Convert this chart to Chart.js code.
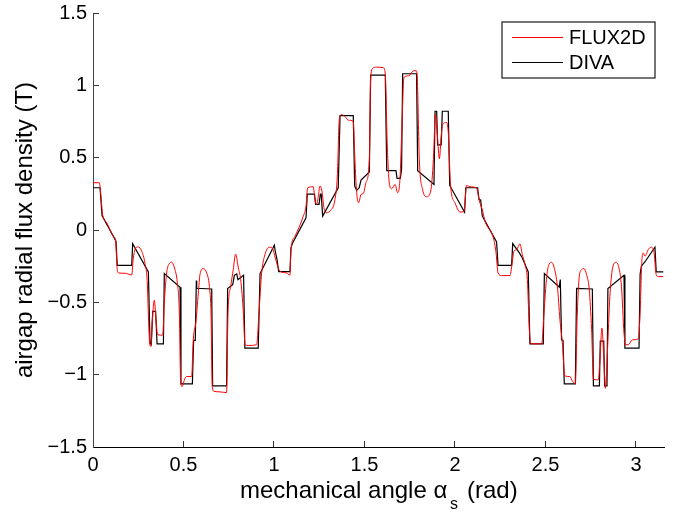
<!DOCTYPE html>
<html>
<head>
<meta charset="utf-8">
<style>html,body{margin:0;padding:0;background:#fff}canvas{display:block}</style>
<script src="https://cdn.jsdelivr.net/npm/chart.js@4"></script>
</head>
<body>
<canvas id="c" width="688" height="512"></canvas>
<script>
const fluxAngles = [0,.035,.044,.053,.076,.112,.125,.134,.142,.177,.214,.223,.236,.25,.269,.287,.3,.308,.313,.32,.328,.339,.348,.357,.385,.394,.407,.422,.435,.45,.466,.477,.484,.492,.508,.517,.545,.554,.569,.582,.591,.61,.628,.643,.652,.659,.668,.702,.738,.746,.761,.775,.788,.803,.816,.831,.84,.858,.904,.917,.932,.95,.974,.993,1.007,1.033,1.07,1.088,1.094,1.116,1.162,1.177,1.186,1.217,1.226,1.236,1.245,1.254,1.265,1.276,1.291,1.309,1.337,1.35,1.361,1.374,1.393,1.411,1.438,1.447,1.457,1.468,1.481,1.494,1.508,1.527,1.534,1.545,1.567,1.604,1.615,1.626,1.637,1.65,1.669,1.683,1.696,1.707,1.718,1.744,1.773,1.786,1.792,1.803,1.821,1.844,1.866,1.881,1.892,1.903,1.914,1.924,1.932,1.954,1.963,1.976,2.0,2.028,2.05,2.064,2.083,2.119,2.135,2.153,2.166,2.212,2.227,2.238,2.258,2.304,2.315,2.326,2.341,2.359,2.372,2.387,2.4,2.411,2.42,2.479,2.492,2.507,2.521,2.534,2.547,2.566,2.58,2.595,2.606,2.635,2.65,2.665,2.676,2.687,2.7,2.713,2.727,2.742,2.755,2.765,2.792,2.801,2.812,2.822,2.831,2.842,2.856,2.871,2.89,2.906,2.92,2.934,2.943,2.958,2.98,3.013,3.023,3.033,3.041,3.05,3.068,3.083,3.099,3.112,3.124,3.151];
const fluxValues = [.327,.327,.234,.107,.05,-.043,-.077,-.274,-.297,-.299,-.311,-.193,-.124,-.117,-.147,-.228,-.366,-.666,-.782,-.805,-.62,-.486,-.62,-.724,-.727,-.505,-.297,-.232,-.223,-.262,-.366,-.574,-1.036,-1.082,-1.025,-1.013,-1.013,-.759,-.632,-.436,-.308,-.267,-.297,-.389,-.574,-1.082,-1.115,-1.119,-1.124,-.574,-.389,-.274,-.167,-.262,-.343,-.574,-.793,-.798,-.793,-.574,-.297,-.17,-.119,-.13,-.193,-.285,-.297,-.313,-.135,-.043,.096,.165,.292,.299,.211,.177,.234,.304,.269,.154,.119,.131,.211,.373,.766,.798,.784,.759,.75,.489,.258,.188,.246,.253,.327,.489,1.043,1.117,1.126,1.122,1.078,.581,.327,.285,.315,.258,.35,.72,1.055,1.066,1.101,1.101,1.043,.489,.281,.23,.269,.489,.8,.65,.493,.65,.731,.743,.673,.304,.188,.124,.128,.308,.299,.29,.2,.131,.061,-.054,-.158,-.297,-.315,-.315,-.239,-.147,-.135,-.096,-.17,-.239,-.343,-.69,-.787,-.787,-.574,-.32,-.234,-.223,-.255,-.389,-.62,-.805,-1.008,-1.013,-1.047,-1.064,-.574,-.32,-.274,-.267,-.308,-.412,-.69,-1.031,-1.036,-.897,-.678,-.874,-1.094,-.851,-.459,-.262,-.223,-.262,-.389,-.713,-.793,-.793,-.759,-.752,-.574,-.204,-.159,-.181,-.135,-.119,-.147,-.309,-.322,-.322];
const divaAngles = [0,.039,.05,.127,.134,.214,.219,.306,.315,.322,.33,.346,.354,.389,.394,.481,.486,.549,.556,.565,.571,.573,.656,.661,.738,.744,.772,.781,.794,.801,.832,.839,.913,.923,1.002,1.007,1.017,1.026,1.088,1.094,1.103,1.177,1.184,1.224,1.23,1.249,1.256,1.261,1.269,1.355,1.365,1.438,1.446,1.457,1.471,1.481,1.527,1.534,1.615,1.623,1.674,1.68,1.698,1.705,1.711,1.788,1.794,1.884,1.89,1.899,1.904,1.924,1.93,1.963,1.971,2.053,2.06,2.125,2.133,2.142,2.151,2.23,2.238,2.313,2.319,2.356,2.372,2.405,2.414,2.488,2.494,2.576,2.582,2.589,2.597,2.604,2.665,2.672,2.759,2.765,2.798,2.803,2.822,2.827,2.84,2.845,2.934,2.939,3.017,3.023,3.03,3.052,3.105,3.112,3.151];
const divaValues = [.292,.292,.1,-.077,-.244,-.244,-.094,-.29,-.782,-.793,-.562,-.562,-.787,-.787,-.301,-.396,-1.064,-1.064,-.763,-.763,-.35,-.403,-.408,-1.077,-1.077,-.405,-.378,-.313,-.304,-.343,-.313,-.817,-.817,-.301,-.105,-.147,-.204,-.288,-.288,-.124,-.089,.084,.248,.248,.177,.177,.248,.248,.096,.292,.791,.791,.304,.274,.292,.345,.401,1.071,1.071,.41,.41,.357,.357,.419,1.08,1.08,.41,.315,.821,.821,.588,.588,.821,.821,.308,.124,.292,.292,.211,.207,.096,-.082,-.244,-.244,-.094,-.158,-.193,-.29,-.787,-.787,-.301,-.394,-.343,-.759,-.763,-1.064,-1.064,-.403,-.408,-1.077,-1.077,-.768,-.768,-1.077,-1.077,-.405,-.313,-.817,-.817,-.304,-.25,-.216,-.119,-.29,-.29];
const seriesNames = ['FLUX2D','DIVA'];
const seriesColors = ['#ff0000','#000000'];
const xTitleParts = ['mechanical angle \u03B1', 's', '(rad)'];
const yTitle = 'airgap radial flux density (T)';
const xRange = [0, 3.155];
const yRange = [-1.5, 1.5];
const FONT = '"Liberation Sans", Arial, sans-serif';

const pairs = (xs, ys) => xs.map((x, i) => ({x, y: ys[i]}));
const fmt = v => (v < 0 ? '\u2212' : '') + Math.abs(v);
const noPad = s => { s.paddingTop = 0; s.paddingBottom = 0; s.paddingLeft = 0; s.paddingRight = 0; };
const forceW = w => s => { s.width = w; noPad(s); };
const forceH = h => s => { s.height = h; noPad(s); };

const annotations = {
  id: 'annotations',
  afterDraw(chart) {
    const c = chart.ctx;
    c.save();
    c.fillStyle = '#fff'; c.strokeStyle = '#1a1a1a'; c.lineWidth = 1.2;
    c.fillRect(502, 22, 153, 56);
    c.strokeRect(502, 22, 153, 56);
    c.lineWidth = 1;
    c.font = '20px ' + FONT; c.textBaseline = 'middle'; c.textAlign = 'left';
    seriesNames.forEach((name, i) => {
      const y = 37.5 + i * 25;
      c.strokeStyle = seriesColors[i];
      c.beginPath(); c.moveTo(512, y); c.lineTo(563, y); c.stroke();
      c.fillStyle = '#000';
      c.fillText(name, 569, y + 1);
    });
    c.textBaseline = 'alphabetic';
    c.font = '24px ' + FONT;
    c.fillText(xTitleParts[0], 240, 498);
    c.fillText(xTitleParts[2], 467, 498);
    c.font = '16px ' + FONT;
    c.fillText(xTitleParts[1], 450, 509);
    c.restore();
  }
};

const grid = {drawOnChartArea: false, tickLength: -6, tickColor: '#333', tickWidth: 1};
const tickFont = {family: FONT, size: 20};

new Chart(document.getElementById('c'), {
  type: 'line',
  data: {
    datasets: [
      {label: seriesNames[0], data: pairs(fluxAngles, fluxValues), borderColor: seriesColors[0], borderWidth: 1, pointRadius: 0, cubicInterpolationMode: 'monotone'},
      {label: seriesNames[1], data: pairs(divaAngles, divaValues), borderColor: seriesColors[1], borderWidth: 1.2, pointRadius: 0, tension: 0}
    ]
  },
  options: {
    responsive: false,
    animation: false,
    devicePixelRatio: 1,
    layout: {autoPadding: false, padding: {top: 13, right: 24, left: 0, bottom: 0}},
    plugins: {legend: {display: false}, title: {display: false}, tooltip: {enabled: false}},
    scales: {
      x: {
        type: 'linear', position: 'bottom', min: xRange[0], max: xRange[1],
        grid, border: {color: '#000', width: 1},
        ticks: {stepSize: 0.5, includeBounds: false, maxRotation: 0, minRotation: 0, padding: 12, color: '#000', font: tickFont, callback: fmt},
        afterFit: forceH(65)
      },
      y: {
        type: 'linear', position: 'left', min: yRange[0], max: yRange[1],
        grid, border: {color: '#444', width: 1},
        ticks: {stepSize: 0.5, includeBounds: false, padding: 12, color: '#000', font: tickFont, callback: fmt},
        title: {display: true, text: yTitle, color: '#000', font: {family: FONT, size: 24}, padding: {top: 11, bottom: 0}},
        afterFit: forceW(93)
      }
    }
  },
  plugins: [annotations]
});
</script>
</body>
</html>
